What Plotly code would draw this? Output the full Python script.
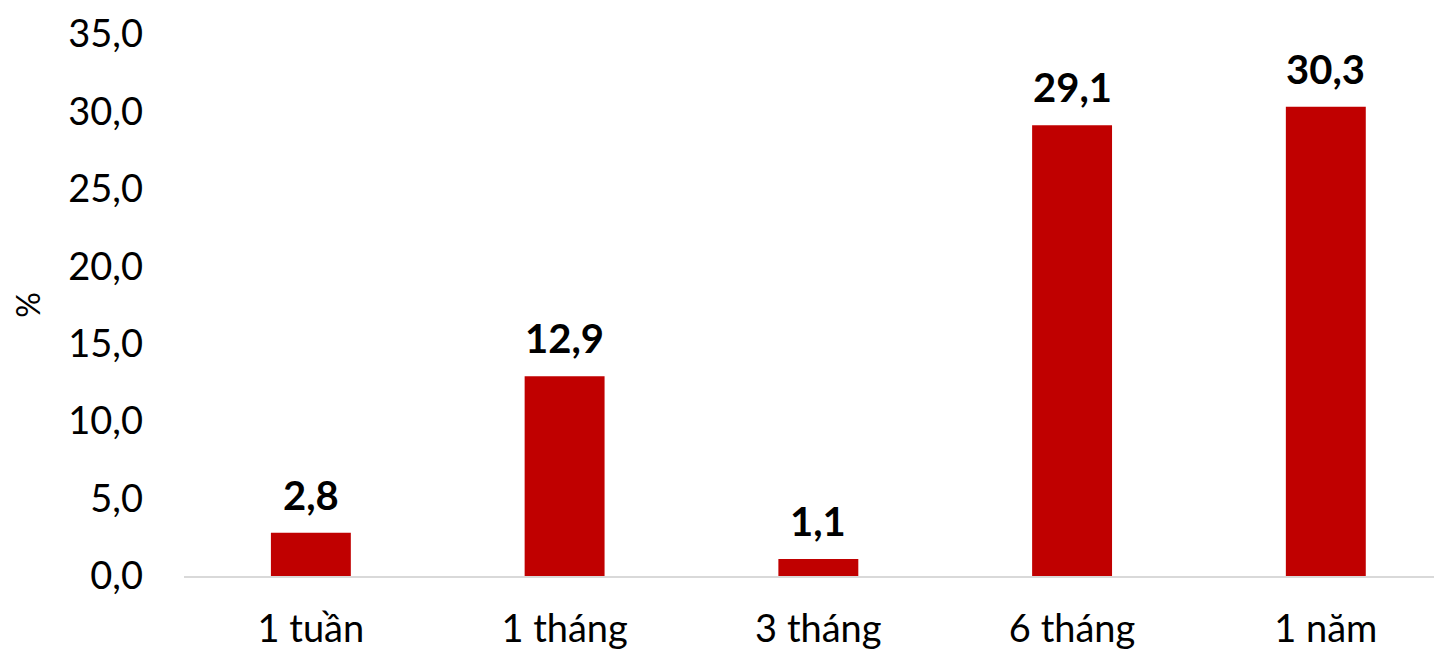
import plotly.graph_objects as go

categories = ["1 tuần", "1 tháng", "3 tháng", "6 tháng", "1 năm"]
values = [2.8, 12.9, 1.1, 29.1, 30.3]
y_ticks = [0, 5, 10, 15, 20, 25, 30, 35]

FONT = "Lato"

fig = go.Figure()
fig.add_trace(go.Bar(
    x=categories, y=values,
    marker=dict(color="#C00000", line=dict(width=0)),
    width=0.315,
    hoverinfo="skip",
))

for c, v in zip(categories, values):
    fig.add_annotation(
        x=c, y=v, text=f"{v:.1f}".replace(".", ","),
        showarrow=False, yanchor="bottom", yshift=12,
        font=dict(family=FONT, size=40, color="#000000", weight="bold"),
    )

# page body adds an 8px offset, so the figure is sized 1434x644
fig.update_layout(
    width=1434, height=644,
    margin=dict(l=176, r=2, t=26, b=76, autoexpand=False),
    paper_bgcolor="white", plot_bgcolor="white",
    separators=",.",
    showlegend=False,
    font=dict(family=FONT, size=38, color="#000000"),
    xaxis=dict(
        range=[-0.5, 4.45],
        showgrid=False, zeroline=False,
        showline=True, linecolor="#D9D9D9", linewidth=2,
        ticks="", ticklabelstandoff=18,
        ticklabeloverflow="allow",
        tickfont=dict(family=FONT, size=38, color="#000000"),
    ),
    yaxis=dict(
        range=[0, 35],
        tickvals=y_ticks, tickformat=".1f",
        showgrid=False, zeroline=False, showline=False,
        ticks="", ticklabelstandoff=40,
        ticklabeloverflow="allow",
        tickfont=dict(family=FONT, size=38, color="#000000"),
        title=dict(text="%", font=dict(family=FONT, size=32, color="#000000"), standoff=22),
    ),
)

fig.write_html("out.html")
